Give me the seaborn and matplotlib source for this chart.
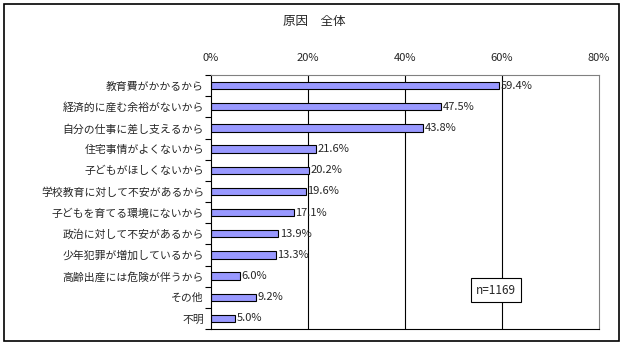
import matplotlib
matplotlib.use("Agg")
import matplotlib.pyplot as plt
import seaborn as sns
import pandas as pd
import numpy as np
from matplotlib.patches import Rectangle

categories = ["教育費がかかるから", "経済的に産む余裕がないから", "自分の仕事に差し支えるから",
              "住宅事情がよくないから", "子どもがほしくないから", "学校教育に対して不安があるから",
              "子どもを育てる環境にないから", "政治に対して不安があるから", "少年犯罪が増加しているから",
              "高齢出産には危険が伴うから", "その他", "不明"]
values = [59.4, 47.5, 43.8, 21.6, 20.2, 19.6, 17.1, 13.9, 13.3, 6.0, 9.2, 5.0]
xticks = [0, 20, 40, 60, 80]
title = "原因　全体"
note = "n=1169"

sns.set_theme(style="white")
plt.rcParams['font.family'] = ['Noto Sans CJK JP', 'DejaVu Sans']

fig = plt.figure(figsize=(6.26, 3.46), dpi=100)
ax = fig.add_axes([211/626, 17/346, 388/626, 254/346])

df = pd.DataFrame({"cat": categories, "val": values})
sns.barplot(data=df, y="cat", x="val", orient="h", color="#9999FF", saturation=1,
            edgecolor="black", linewidth=0.8, width=0.35, ax=ax)

ax.set_xlim(0, 80)
ax.set_ylim(len(categories) - 0.5, -0.5)
ax.set_xticks(xticks)
ax.set_xticklabels([f"{t}%" for t in xticks], fontsize=8)
ax.xaxis.tick_top()
ax.tick_params(axis='x', length=0, pad=8.5)
ax.set_xlabel("")
ax.set_ylabel("")
ax.tick_params(axis='y', which='major', length=0, pad=5, labelsize=7.8)
ax.set_yticks(np.arange(len(categories) + 1) - 0.5, minor=True)
ax.tick_params(axis='y', which='minor', length=4, width=0.8, color='black', direction='out', left=True)

for x in [20, 40, 60]:
    ax.axvline(x, color='black', lw=0.8, zorder=0)

ax.spines['left'].set_color('black')
ax.spines['bottom'].set_color('black')
ax.spines['top'].set_color('#808080')
ax.spines['right'].set_color('#808080')
for s in ax.spines.values():
    s.set_linewidth(0.8)

for i, v in enumerate(values):
    ax.text(v + 0.3, i, f"{v:.1f}%", va='center', ha='left', fontsize=8)

ax.text(58.8, 9.66, note, fontsize=8.5, ha='center', va='center',
        bbox=dict(boxstyle='square,pad=0.45', facecolor='white', edgecolor='black', lw=0.8))

fig.text(314/626, 1 - 22/346, title, ha='center', va='center', fontsize=9)
fig.patches.append(Rectangle((4/626, 5/346), 615/626, 337/346, transform=fig.transFigure,
                             fill=False, edgecolor='black', lw=1.2))

fig.savefig("out.png", dpi=100)
